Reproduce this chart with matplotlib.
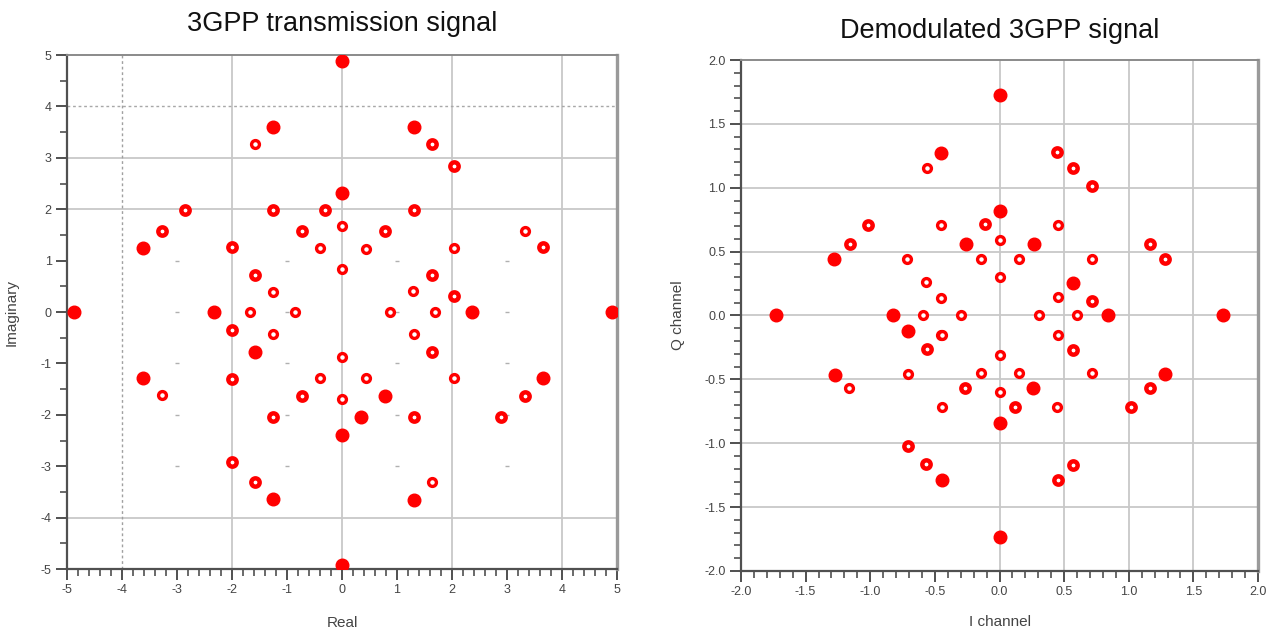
import matplotlib.pyplot as plt
import numpy as np
from matplotlib.ticker import MultipleLocator, FormatStrFormatter

plt.rcParams['font.family'] = ['Liberation Sans', 'DejaVu Sans']
plt.rcParams['axes.unicode_minus'] = False

# transmitted constellation (real, imaginary, number of overlapping hits)
tx_re = [0, -1.26, 1.31, -1.585, 1.63, 2.03, 0, -2.85, -1.26, -0.31, 1.31, 0,
         -3.28, -0.73, 0.785, 3.32, -3.62, -2.0, -0.40, 0.44, 2.03, 3.65, 0,
         -1.59, 1.63, -1.26, 1.30, 2.03, -4.88, -2.33, -1.67, -0.85, 0.875, 1.70,
         2.37, 4.91, -2.0, -1.26, 1.305, -1.585, 1.63, 0, -3.61, -2.0, -0.40, 0.44,
         2.03, 3.65, -3.28, -0.72, 0, 0.785, 3.32, -1.26, 0.355, 1.305, 2.89, 0,
         -2.0, -1.585, 1.64, -1.245, 1.305, 0]
tx_im = [4.88, 3.60, 3.60, 3.27, 3.26, 2.85, 2.31, 1.99, 1.99, 1.99, 1.99, 1.67,
         1.58, 1.58, 1.58, 1.58, 1.245, 1.26, 1.245, 1.23, 1.245, 1.26, 0.84,
         0.73, 0.73, 0.39, 0.40, 0.32, 0, 0, 0, 0, 0, 0,
         0, 0, -0.345, -0.43, -0.435, -0.78, -0.77, -0.875, -1.29, -1.30, -1.29, -1.29,
         -1.29, -1.29, -1.62, -1.63, -1.69, -1.63, -1.63, -2.04, -2.04, -2.04, -2.04, -2.39,
         -2.91, -3.30, -3.31, -3.64, -3.65, -4.92]
tx_hits = [3, 3, 3, 1, 2, 2, 3, 2, 2, 2, 2, 1,
           2, 2, 2, 1, 3, 2, 1, 1, 1, 2, 1,
           2, 2, 1, 1, 2, 3, 3, 1, 1, 1, 1,
           3, 3, 2, 1, 1, 3, 2, 1, 3, 2, 1, 1,
           1, 3, 1, 2, 1, 3, 2, 2, 3, 2, 2, 3,
           2, 2, 1, 3, 3, 3]

# demodulated constellation (I, Q, number of overlapping hits)
rx_i = [-1.73, -1.28, -1.16, -1.017, -0.826, -0.71, -0.713, -0.569, -0.594, -0.453,
        -0.453, -0.30, -0.26, -0.453, -0.563, -0.453, 0, 0.442, 0.571, 0.718,
        0, -0.112, 0.45, 0, 0.267, -0.146, 0.151, 0.713, 1.164, 1.28,
        0, 0.571, 0.455, 0.718, 0.306, 0.597, 0.837, 1.732, 0.45, -0.447,
        -0.563, -1.273, -0.71, -1.167, -0.267, -0.447, -0.71, -0.569, -0.447, 0.571,
        0, -0.146, 0.151, 0.718, 1.28, 0, 0.262, 1.164, 0.12, 0.447,
        1.015, 0, 0.566, 0.45, 0]
rx_q = [0, 0.44, 0.556, 0.705, 0, -0.12, 0.44, 0.264, 0, 0.139,
        -0.149, 0, 0.556, 0.705, 1.157, 1.274, 1.723, 1.279, 1.157, 1.013,
        0.817, 0.713, 0.71, 0.593, 0.561, 0.441, 0.441, 0.441, 0.561, 0.444,
        0.30, 0.256, 0.143, 0.117, 0, 0, 0, 0, -0.149, -0.154,
        -0.266, -0.462, -0.457, -0.566, -0.569, -0.718, -1.023, -1.161, -1.284, -0.269,
        -0.308, -0.452, -0.452, -0.452, -0.457, -0.595, -0.569, -0.569, -0.718, -0.713,
        -0.713, -0.84, -1.167, -1.284, -1.736]
rx_hits = [3, 3, 2, 2, 3, 3, 1, 1, 1, 1,
           1, 1, 3, 1, 1, 3, 3, 2, 2, 2,
           3, 2, 1, 1, 3, 1, 1, 1, 2, 2,
           1, 3, 1, 2, 1, 1, 3, 3, 1, 1,
           2, 3, 1, 1, 2, 1, 2, 2, 3, 2,
           1, 1, 1, 1, 3, 1, 3, 2, 2, 1,
           2, 3, 2, 2, 3]

RED = '#ff0000'
GRID = '#c8c8c8'
AXIS = '#505050'
TEXT = '#444444'


def draw_points(ax, xs, ys, hits):
    xs, ys, hits = np.asarray(xs), np.asarray(ys), np.asarray(hits)
    # single hits show as rings, repeated hits fill in
    styles = {1: dict(s=32, facecolors='white', linewidths=2.4),
              2: dict(s=36, facecolors='white', linewidths=3.2),
              3: dict(s=82, facecolors=RED, linewidths=1.0)}
    for h, st in styles.items():
        m = hits == h
        ax.scatter(xs[m], ys[m], edgecolors=RED, zorder=5, **st)


def style_axes(ax, major, minor, fmt):
    for side in ('left', 'bottom'):
        ax.spines[side].set_color(AXIS)
        ax.spines[side].set_linewidth(1.6)
    ax.spines['top'].set_color('#8a8a8a')
    ax.spines['top'].set_linewidth(1.4)
    ax.spines['right'].set_color('#9a9a9a')
    ax.spines['right'].set_linewidth(2.4)
    ax.xaxis.set_major_locator(MultipleLocator(major))
    ax.yaxis.set_major_locator(MultipleLocator(major))
    ax.xaxis.set_major_formatter(FormatStrFormatter(fmt))
    ax.yaxis.set_major_formatter(FormatStrFormatter(fmt))
    ax.tick_params(which='major', direction='out', length=8, width=1.4,
                   color=AXIS, labelcolor=TEXT, labelsize=9, pad=3)
    ax.tick_params(which='minor', direction='out', length=5, width=1.2, color=AXIS)
    ax.xaxis.set_minor_locator(MultipleLocator(minor[0]))
    ax.yaxis.set_minor_locator(MultipleLocator(minor[1]))


fig = plt.figure(figsize=(12.71, 6.35), dpi=100)

# transmission signal
ax1 = fig.add_axes([0.0527, 0.1039, 0.4327, 0.8094])
ax1.set_xlim(-5, 5)
ax1.set_ylim(-5, 5)
for x in [-2, 0, 2, 4]:
    ax1.axvline(x, color=GRID, lw=1.3, zorder=1)
for y in [3, 2, -4]:
    ax1.axhline(y, color=GRID, lw=1.3, zorder=1)
ax1.axvline(-4, color='#a0a0a0', lw=1.0, ls=(0, (2, 2)), zorder=1)
ax1.axhline(4, color='#a8a8a8', lw=1.0, ls=(0, (2, 2)), zorder=1)
gx, gy = np.meshgrid([-3, -1, 1, 3], [1, 0, -1, -2, -3])
ax1.scatter(gx.ravel(), gy.ravel(), marker='_', s=12, color='#b0b0b0', lw=1, zorder=1)
draw_points(ax1, tx_re, tx_im, tx_hits)
style_axes(ax1, 1, (0.2, 0.5), '%d')
ax1.set_title('3GPP transmission signal', fontsize=19.5, pad=17, color='#111111')
ax1.set_xlabel('Real', fontsize=11, color=TEXT, labelpad=14)
ax1.set_ylabel('Imaginary', fontsize=11, color=TEXT, labelpad=16)

# demodulated signal
ax2 = fig.add_axes([0.583, 0.1008, 0.4068, 0.8047])
ax2.set_xlim(-2, 2)
ax2.set_ylim(-2, 2)
for x in [0, 0.5, 1.0, 1.5]:
    ax2.axvline(x, color=GRID, lw=1.3, zorder=1)
for y in [-1.5, -1.0, -0.5, 0, 0.5, 1.0, 1.5]:
    ax2.axhline(y, color=GRID, lw=1.3, zorder=1)
draw_points(ax2, rx_i, rx_q, rx_hits)
style_axes(ax2, 0.5, (0.1, 0.1), '%.1f')
ax2.set_title('Demodulated 3GPP signal', fontsize=19.5, pad=16, color='#111111')
ax2.set_xlabel('I channel', fontsize=11, color=TEXT, labelpad=12)
ax2.set_ylabel('Q channel', fontsize=11, color=TEXT, labelpad=14)

fig.savefig('out.png', dpi=100)
plt.close(fig)
